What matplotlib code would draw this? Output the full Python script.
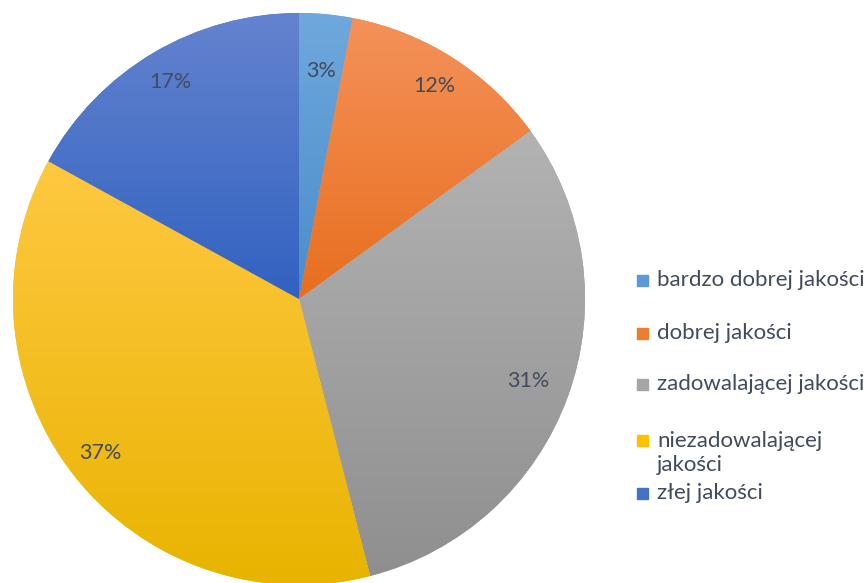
import matplotlib
matplotlib.use("Agg")
import matplotlib.pyplot as plt
import numpy as np
from matplotlib.colors import LinearSegmentedColormap
from matplotlib.patches import Rectangle

labels = [
    "bardzo dobrej jakości",
    "dobrej jakości",
    "zadowalającej jakości",
    "niezadowalającej\njakości",
    "złej jakości",
]
values = [3, 12, 31, 37, 17]
top_colors = ["#6FA8DC", "#F4925A", "#B3B3B3", "#FFC842", "#6483CF"]
bottom_colors = ["#4A8CCB", "#E86E1E", "#8F8F8F", "#E8B400", "#3162C0"]
base_colors = ["#5B9BD5", "#ED7D31", "#A5A5A5", "#FFC000", "#4472C4"]

text_color = "#414B5C"
plt.rcParams["font.family"] = ["Lato", "DejaVu Sans"]

fig = plt.figure(figsize=(8.67, 5.83), dpi=100)
ax = fig.add_axes([0.0150, -0.0034, 0.6598, 0.9811])

wedges, _ = ax.pie(
    values,
    colors=base_colors,
    startangle=90,
    counterclock=False,
    radius=1.0,
    wedgeprops={"linewidth": 0},
)
ax.set_xlim(-1, 1)
ax.set_ylim(-1, 1)
ax.axis("off")

# vertical gradient per slice, clipped to the wedge
for w, c_top, c_bot in zip(wedges, top_colors, bottom_colors):
    verts = w.get_path().vertices
    verts = w.get_patch_transform().transform(verts)
    x0, y0 = verts.min(axis=0)
    x1, y1 = verts.max(axis=0)
    cmap = LinearSegmentedColormap.from_list("g", [c_bot, c_top])
    grad = np.linspace(0, 1, 256).reshape(-1, 1)
    im = ax.imshow(grad, cmap=cmap, origin="lower", aspect="auto",
                   extent=[x0, x1, y0, y1], zorder=w.get_zorder() + 0.1)
    im.set_clip_path(w)
ax.set_xlim(-1, 1)
ax.set_ylim(-1, 1)

# percentage labels
label_dist = [0.8, 0.88, 0.85, 0.88, 0.88]
for w, v, d in zip(wedges, values, label_dist):
    ang = np.deg2rad((w.theta1 + w.theta2) / 2)
    ax.text(d * np.cos(ang), d * np.sin(ang), f"{v}%", ha="center", va="center",
            fontsize=15.5, color=text_color, zorder=10)

# legend drawn by hand to mimic the wrapped entry layout
legend_y = [280, 333, 384, 440, 493]
W, H = 867, 583
for lab, col, yp in zip(labels, base_colors, legend_y):
    fig.patches.append(Rectangle((637 / W, 1 - (yp + 5.5) / H), 11 / W, 11 / H,
                                 transform=fig.transFigure, color=col))
    ty = yp + 13 if "\n" in lab else yp
    fig.text(657 / W, 1 - ty / H, lab, ha="left", va="center",
             fontsize=16, color=text_color, linespacing=1.2)

fig.savefig("out.png", dpi=100)
